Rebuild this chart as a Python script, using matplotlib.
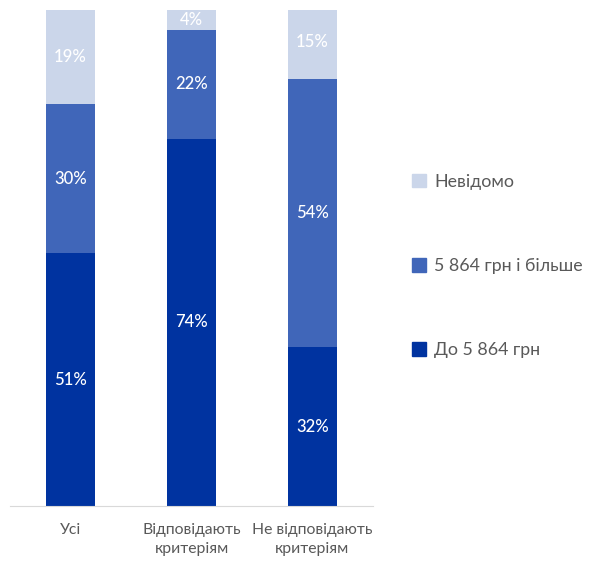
import matplotlib
matplotlib.use("Agg")
import matplotlib.pyplot as plt
from matplotlib.patches import Patch

categories = ["Усі", "Відповідають\nкритеріям", "Не відповідають\nкритеріям"]
series_names = ["До 5 864 грн", "5 864 грн і більше", "Невідомо"]
low = [51, 74, 32]
high = [30, 22, 54]
unknown = [19, 4, 15]
colors = ["#0033A0", "#4066B9", "#CBD6EA"]

plt.rcParams['font.family'] = ['Lato', 'DejaVu Sans']

fig = plt.figure(figsize=(5.89, 5.63), dpi=100)
ax = fig.add_axes([10/589, (563-506)/563, (373-10)/589, 496/563])

x = list(range(len(categories)))
series = [low, high, unknown]
bottom = [0]*len(categories)
for vals, col in zip(series, colors):
    ax.bar(x, vals, width=0.405, bottom=bottom, color=col, edgecolor='none')
    for xi, b, v in zip(x, bottom, vals):
        ax.text(xi, b + v/2, f"{v}%", ha='center', va='center', color='white',
                fontsize=12, fontweight='medium')
    bottom = [b + v for b, v in zip(bottom, vals)]

ax.set_xlim(-0.5, 2.5)
ax.set_ylim(0, 100)
for s in ['top', 'right', 'left']:
    ax.spines[s].set_visible(False)
ax.spines['bottom'].set_color('#D9D9D9')
ax.set_yticks([])
ax.set_xticks(x)
ax.set_xticklabels(categories, fontsize=11.3, color='#595959', linespacing=1.45)
ax.tick_params(axis='x', length=0, pad=12)

handles = [Patch(color=c) for c in reversed(colors)]
labels = list(reversed(series_names))
fig.legend(handles, labels, loc='center left', bbox_to_anchor=(396/589, 1-266/563),
           frameon=False, fontsize=12.8, labelcolor='#595959', handlelength=0.8,
           handleheight=0.8, handletextpad=0.45, labelspacing=3.85)

fig.savefig("out.png", dpi=100)
